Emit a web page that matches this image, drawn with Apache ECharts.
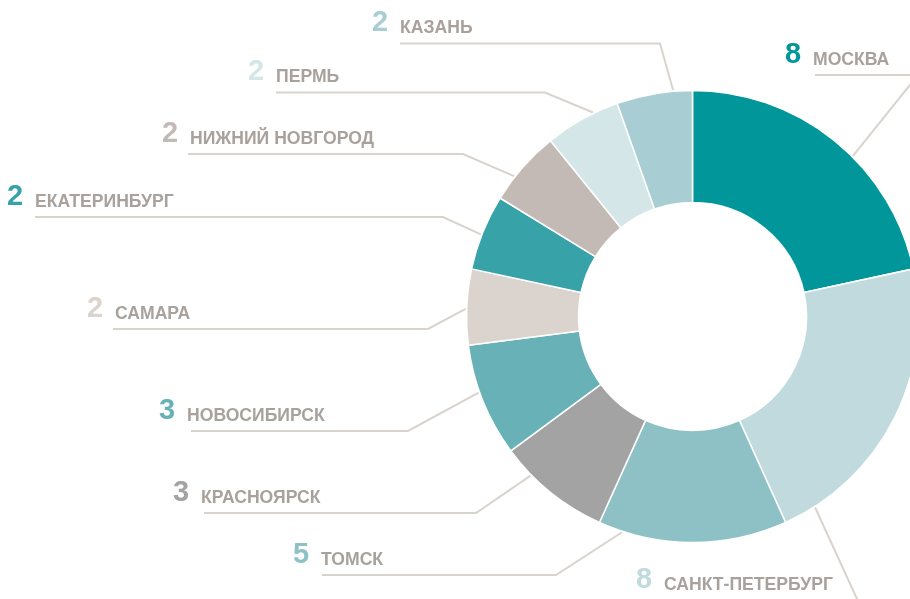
<!DOCTYPE html>
<html>
<head>
<meta charset="utf-8">
<script src="https://cdn.jsdelivr.net/npm/echarts@6/dist/echarts.min.js"></script>
<style>
  html, body { margin: 0; padding: 0; background: #ffffff; }
  #chart { width: 910px; height: 599px; }
</style>
</head>
<body>
<div id="chart"></div>
<script>
// ---- data ----
const cities = ['МОСКВА', 'САНКТ-ПЕТЕРБУРГ', 'ТОМСК', 'КРАСНОЯРСК', 'НОВОСИБИРСК',
                'САМАРА', 'ЕКАТЕРИНБУРГ', 'НИЖНИЙ НОВГОРОД', 'ПЕРМЬ', 'КАЗАНЬ'];
const values = [8, 8, 5, 3, 3, 2, 2, 2, 2, 2];

// ---- styles ----
const colors = ['#01979a', '#c0dadd', '#8ec1c5', '#a3a3a3', '#68b2b7',
                '#dbd4ce', '#37a3a8', '#c3bab6', '#d4e6e8', '#a8ced3'];
const nameColor = '#a9a19c';
const lineColor = '#d9d3cd';

// ---- geometry / label layout ----
const CX = 692.5, CY = 316.5, R_IN = 114, R_OUT = 226;
const lineStartAngle = [45, 147.3, 198.1, 225.5, 250.4, 271.9, 291.2, 308.2, 334, 355.1];
const elbowX = [918, 857.5, 556, 476, 408, 428, 443, 463, 545, 660];
const elbowY = [75, 600, 575, 513, 431, 329, 217, 154, 92.5, 43.5];
const lineEndX = [815, 663, 322, 204, 191, 113, 35, 188, 276, 400];
const labelX = [785, 636, 293, 173, 159, 87, 7, 162, 248, 372];

const FONT = 'Liberation Sans, Arial, sans-serif';
const rich = { c: { fontFamily: FONT, fontSize: 17.6, fontWeight: 'bold',
                    color: nameColor, lineHeight: 22, verticalAlign: 'bottom' } };
colors.forEach((c, i) => {
  rich['n' + i] = { fontFamily: FONT, fontSize: 29, fontWeight: 'bold',
                    color: c, width: 28, lineHeight: 30.5, verticalAlign: 'bottom' };
});

const chart = echarts.init(document.getElementById('chart'), null, { renderer: 'canvas' });
chart.setOption({
  animation: false,
  backgroundColor: '#ffffff',
  series: [{
    type: 'pie',
    center: [CX, CY],
    radius: [R_IN, R_OUT],
    startAngle: 90,
    clockwise: true,
    avoidLabelOverlap: false,
    emphasis: { disabled: true },
    itemStyle: { borderColor: '#ffffff', borderWidth: 1.5 },
    data: cities.map((n, i) => ({ name: n, value: values[i], itemStyle: { color: colors[i] } })),
    label: {
      show: true,
      position: 'outside',
      overflow: 'none',
      width: 400,
      formatter: p => '{n' + p.dataIndex + '|' + p.value + '}{c|' + p.name + '}',
      rich: rich
    },
    labelLine: { show: true, lineStyle: { color: lineColor, width: 2 } },
    labelLayout: function (p) {
      const i = p.dataIndex;
      const a = lineStartAngle[i] * Math.PI / 180;
      const r = R_OUT + 1;
      const sx = CX + r * Math.sin(a), sy = CY - r * Math.cos(a);
      return {
        x: labelX[i],
        y: elbowY[i] - 6,
        align: 'left',
        verticalAlign: 'bottom',
        labelLinePoints: [[sx, sy], [elbowX[i], elbowY[i]], [lineEndX[i], elbowY[i]]]
      };
    }
  }]
});
</script>
</body>
</html>
